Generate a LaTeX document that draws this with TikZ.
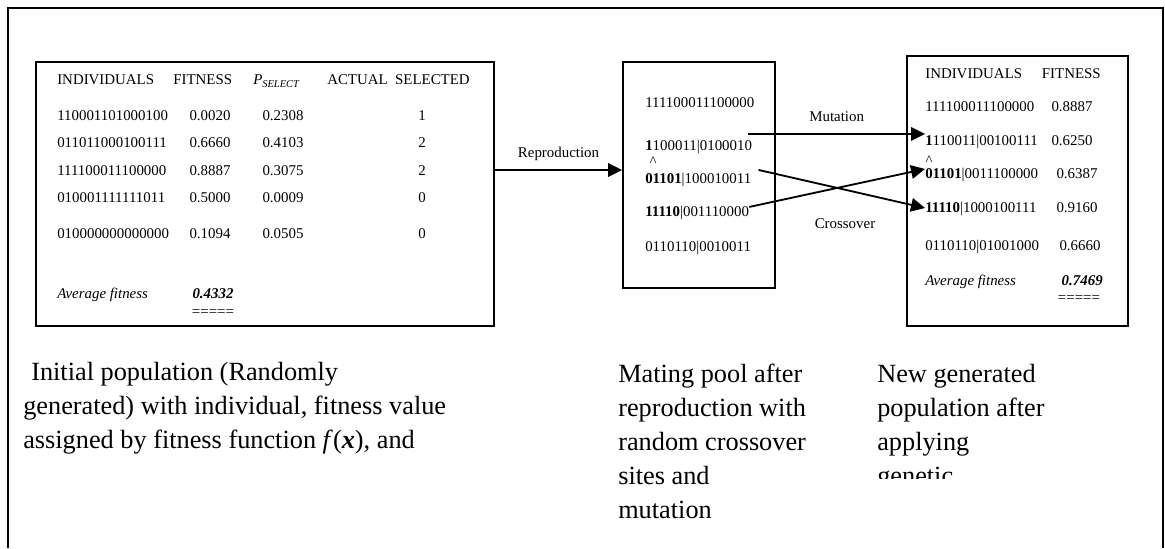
\documentclass[tikz,border=0pt]{standalone}
\usepackage{fontspec}
\setmainfont{Liberation Serif}
\usetikzlibrary{arrows.meta,positioning,calc}
\tikzset{
  panel/.style={draw,line width=1.3pt,inner sep=0pt},
  cell/.style={inner sep=0pt,text height=0.68em,text depth=0pt,
    font=\fontsize{10.6}{12}\selectfont},
  caption/.style={inner sep=0pt,align=left,anchor=north west,
    font=\fontsize{18.7}{24.1}\selectfont},
  arrow/.style={-{Triangle[length=0.35cm,width=0.34cm]},line width=1.3pt}
}

\begin{document}
\begin{tikzpicture}[x=0.025cm,y=-0.025cm]
\useasboundingbox (0,0) rectangle (1165,548);
\draw[line width=1.3pt] (8,548) -- (8,8) -- (1163,8) -- (1163,548);

% the three panels
\node[panel,minimum width=11.45cm,minimum height=6.6cm] (pop) at (265,194) {};
\node[panel,minimum width=3.8cm,minimum height=5.65cm] (pool) at (699,175) {};
\node[panel,minimum width=5.525cm,minimum height=6.75cm] (new) at (1017.5,191) {};

% initial population
\node[cell,anchor=west] (h1) at (57,80) {INDIVIDUALS};
\node[cell,anchor=west] (h2) at (173,80) {FITNESS};
\node[cell,anchor=west] (h3) at (253,80) {\textit{P}\textsubscript{\textit{SELECT}}};
\node[cell,anchor=west] (h4) at (327,80) {ACTUAL\ \ SELECTED};

\node[cell,anchor=west] (i1) at (57,116) {110001101000100};
\node[cell] (f1) at (210,116) {0.0020};
\node[cell] (p1) at (283,116) {0.2308};
\node[cell] (s1) at (422,116) {1};
\node[cell,anchor=west] (i2) at (57,143) {011011000100111};
\node[cell] (f2) at (210,143) {0.6660};
\node[cell] (p2) at (283,143) {0.4103};
\node[cell] (s2) at (422,143) {2};
\node[cell,anchor=west] (i3) at (57,171) {111100011100000};
\node[cell] (f3) at (210,171) {0.8887};
\node[cell] (p3) at (283,171) {0.3075};
\node[cell] (s3) at (422,171) {2};
\node[cell,anchor=west] (i4) at (57,198) {010001111111011};
\node[cell] (f4) at (210,198) {0.5000};
\node[cell] (p4) at (283,198) {0.0009};
\node[cell] (s4) at (422,198) {0};
\node[cell,anchor=west] (i5) at (57,234) {010000000000000};
\node[cell] (f5) at (210,234) {0.1094};
\node[cell] (p5) at (283,234) {0.0505};
\node[cell] (s5) at (422,234) {0};

\node[cell,anchor=west] (avg1) at (57,294) {\textit{Average fitness}};
\node[cell] (val1) at (213,294) {\textbf{\textit{0.4332}}};
\node[cell] (eq1) at (213,312) {=====};

% mating pool
\node[cell,anchor=west] (m1) at (645,103) {111100011100000};
\node[cell,anchor=west] (m2) at (645,146) {\textbf{1}100011|0100010};
\node[cell] (c1) at (653,162) {\textasciicircum};
\node[cell,anchor=west] (m3) at (645,179) {\textbf{01101}|100010011};
\node[cell,anchor=west] (m4) at (645,212) {\textbf{11110}|001110000};
\node[cell,anchor=west] (m5) at (645,247) {0110110|0010011};

% new population
\node[cell,anchor=west] (g1) at (925,74) {INDIVIDUALS};
\node[cell,anchor=east] (g2) at (1101,74) {FITNESS};
\node[cell,anchor=west] (n1) at (925,107) {111100011100000};
\node[cell] (v1) at (1072,107) {0.8887};
\node[cell,anchor=west] (n2) at (925,141) {\textbf{1}110011|00100111};
\node[cell] (v2) at (1072,141) {0.6250};
\node[cell] (c2) at (929,161) {\textasciicircum};
\node[cell,anchor=west] (n3) at (925,174) {\textbf{01101}|0011100000};
\node[cell] (v3) at (1077,174) {0.6387};
\node[cell,anchor=west] (n4) at (925,208) {\textbf{11110}|1000100111};
\node[cell] (v4) at (1077,208) {0.9160};
\node[cell,anchor=west] (n5) at (925,246) {0110110|01001000};
\node[cell] (v5) at (1080,246) {0.6660};
\node[cell,anchor=west] (avg2) at (925,281) {\textit{Average fitness}};
\node[cell,anchor=east] (val2) at (1103,281) {\textbf{\textit{0.7469}}};
\node[cell] (eq2) at (1079,298) {=====};

% connectors
\draw[arrow] ($(pop.east |- pool.west)+(0,-5)$) -- ($(pool.west)+(0,-5)$)
  node[cell,midway,above=0.3cm] (rep) {Reproduction};
\coordinate (mu) at ($(m2.north east)+(-4,-7)$);
\draw[arrow] (mu) -- (mu -| n2.west)
  node[cell,midway,above=0.3cm] (mut) {Mutation};
\draw[arrow] ($(m3.north east)+(7,-4)$) -- (n4.west);
\draw[arrow] (m4.north east) -- (n3.north west);
\node[cell] (xo) at (845,224) {Crossover};

% captions
\node[caption] (cap1) at (23,362) {\hspace*{0.2cm}Initial population (Randomly\\
  generated) with individual, fitness value\\
  assigned by fitness function \textit{f}(\textbf{\textit{x}}), and};
\node[caption] (cap2) at (618,364) {Mating pool after\\reproduction with\\
  random crossover\\sites and\\mutation};
\begin{scope}
  \clip (870,340) rectangle (1160,478);
  \node[caption] (cap3) at (877,364) {New generated\\population after\\
    applying\\genetic};
\end{scope}
\end{tikzpicture}
\end{document}
